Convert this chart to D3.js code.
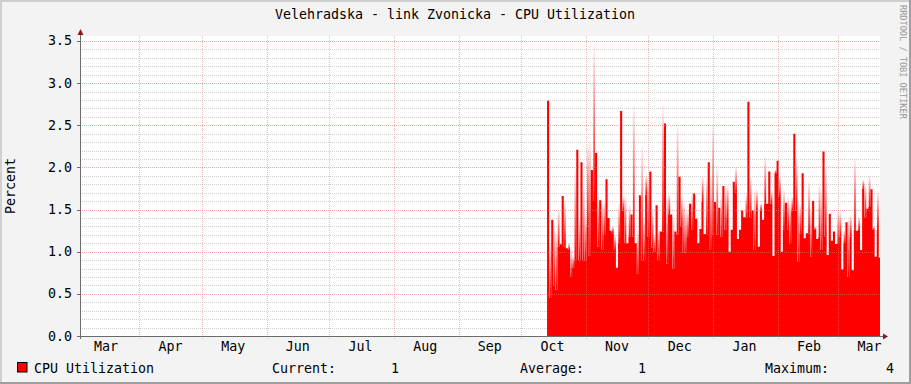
<!DOCTYPE html>
<html>
<head>
<meta charset="utf-8">
<script src="https://cdn.jsdelivr.net/npm/d3@7"></script>
<style>
  html, body { margin: 0; padding: 0; background: #f3f3f3; }
  svg { display: block; }
  text { font-family: "DejaVu Sans Mono", monospace; }
</style>
</head>
<body>
<script>
// ---------- data ----------
const title = "Velehradska - link Zvonicka - CPU Utilization";
const yLabel = "Percent";
const seriesName = "CPU Utilization";
const sideText = "RRDTOOL / TOBI OETIKER";
const yTicks = [0.0, 0.5, 1.0, 1.5, 2.0, 2.5, 3.0, 3.5];
const monthLabels = ["Mar","Apr","May","Jun","Jul","Aug","Sep","Oct","Nov","Dec","Jan","Feb","Mar"];
const legendStats = [["Current:", "1"], ["Average:", "1"], ["Maximum:", "4"]];
const timeStart = "2011-03-03T14:00:00";
const timeEnd = "2012-03-20T23:30:00";
const dataStart = "2011-10-13T10:00:00"; // first sample, one sample per day
// daily solid (average) values
const cpuAvg = [
  2.79,0.45,1.38,0.60,0.55,1.06,1.08,1.66,1.06,1.04,
  1.02,0.70,0.81,0.90,2.21,0.90,2.06,0.90,0.90,1.30,
  0.95,1.97,1.60,2.17,1.06,1.61,1.03,1.20,1.86,1.40,
  1.25,1.22,1.02,0.81,1.10,2.67,1.49,1.10,1.10,1.18,
  1.44,1.18,1.10,0.74,1.67,0.90,0.90,1.68,1.18,1.95,
  1.05,1.00,1.55,0.90,1.24,1.24,2.52,0.86,1.44,1.44,
  0.80,1.24,1.20,1.89,1.30,0.99,0.99,1.18,1.57,1.26,
  1.69,1.39,1.10,1.27,1.59,1.21,1.20,2.06,1.02,1.20,
  1.59,1.20,1.52,1.18,1.78,1.26,1.41,1.00,1.26,1.83,
  1.70,1.15,1.26,1.49,1.41,1.41,2.78,1.41,1.49,1.02,
  1.49,1.06,1.49,1.38,1.57,1.57,1.95,1.57,0.95,1.93,
  2.08,1.65,1.00,1.26,1.58,1.26,1.10,1.49,2.40,1.49,
  0.88,1.22,1.93,1.16,1.22,1.22,0.94,1.60,1.26,1.15,
  1.18,1.02,2.19,1.18,0.96,1.45,1.13,1.24,1.09,1.10,
  1.18,0.79,1.10,1.35,0.70,1.18,0.78,1.26,1.25,1.26,
  1.02,1.75,1.41,1.51,1.53,1.74,1.26,0.94,1.26,0.93
];
// daily short peak values (drawn fading)
const cpuPeak = [
  2.79,1.10,1.38,1.30,1.25,1.50,1.10,1.66,1.60,1.04,
  1.10,1.02,0.95,1.97,2.21,1.40,2.06,1.77,1.45,2.28,
  2.30,1.97,3.45,2.17,1.65,1.61,1.57,1.60,1.86,1.40,
  1.25,1.30,1.20,0.81,1.57,2.67,1.65,1.67,1.10,1.55,
  1.44,2.74,1.10,1.26,1.67,2.25,1.40,1.91,1.85,1.95,
  1.50,1.20,1.55,1.26,1.24,2.74,2.52,1.65,1.69,1.44,
  1.41,1.24,2.52,1.89,1.65,1.61,1.49,1.49,1.57,1.71,
  1.69,1.39,1.10,1.27,1.89,1.21,1.89,2.06,1.90,2.50,
  1.59,2.00,1.52,1.69,1.78,1.77,1.79,1.00,1.26,1.83,
  2.00,1.15,1.26,1.49,1.41,1.69,2.78,1.89,1.49,1.73,
  1.73,1.06,1.57,1.38,2.13,1.57,1.95,1.73,0.95,1.97,
  2.08,1.89,1.00,1.73,1.58,1.65,1.57,1.65,2.40,2.13,
  1.60,1.57,1.93,1.16,1.22,1.83,1.53,1.60,1.30,1.15,
  1.81,1.73,2.19,2.00,0.96,1.45,1.13,1.24,1.09,1.49,
  1.47,0.79,1.26,1.35,1.41,1.43,0.78,2.11,1.25,1.41,
  1.02,1.85,1.81,1.51,1.91,1.74,1.30,0.94,1.71,0.93
];

// ---------- layout ----------
const W = 911, H = 384;
const plot = { left: 80, right: 880, top: 36, bottom: 336 };

const svg = d3.select("body").append("svg").attr("width", W).attr("height", H);

// background + 3D frame
svg.append("rect").attr("width", W).attr("height", H).attr("fill", "#f3f3f3");
svg.append("path").attr("d", `M0,${H} L0,0 L${W},0`).attr("fill", "none").attr("stroke", "#cfcfcf").attr("stroke-width", 4);
svg.append("path").attr("d", `M${W},0 L${W},${H} L0,${H}`).attr("fill", "none").attr("stroke", "#9e9e9e").attr("stroke-width", 4);

// plot canvas
svg.append("rect").attr("x", plot.left).attr("y", plot.top)
  .attr("width", plot.right - plot.left).attr("height", plot.bottom - plot.top).attr("fill", "#ffffff");

const x = d3.scaleTime().domain([new Date(timeStart), new Date(timeEnd)]).range([plot.left, plot.right]);
const y = d3.scaleLinear().domain([0, (plot.bottom - plot.top) / 84.3]).range([plot.bottom, plot.top]);

const defs = svg.append("defs");
defs.append("clipPath").attr("id", "clip").append("rect")
  .attr("x", plot.left).attr("y", plot.top).attr("width", plot.right - plot.left).attr("height", plot.bottom - plot.top);
const grad = defs.append("linearGradient").attr("id", "fade")
  .attr("x1", 0).attr("y1", 1).attr("x2", 0).attr("y2", 0);
grad.append("stop").attr("offset", "0%").attr("stop-color", "#ff0000").attr("stop-opacity", 1);
grad.append("stop").attr("offset", "55%").attr("stop-color", "#ff0000").attr("stop-opacity", 0.5);
grad.append("stop").attr("offset", "100%").attr("stop-color", "#ff0000").attr("stop-opacity", 0.04);

// minor horizontal grid (every 0.1), beneath data
const minorVals = d3.range(1, 36).map(d => d / 10).filter(v => Math.round(v * 10) % 5 !== 0);
svg.append("g").selectAll("line").data(minorVals).join("line")
  .attr("x1", plot.left).attr("x2", plot.right)
  .attr("y1", d => Math.round(y(d)) + 0.5).attr("y2", d => Math.round(y(d)) + 0.5)
  .attr("stroke", "#d0d0d0").attr("stroke-width", 1).attr("stroke-dasharray", "1,1");

// data
const t0 = new Date(dataStart);
const dayMs = 86400000;
const samples = cpuAvg.map((v, i) => ({ t: new Date(+t0 + i * dayMs), v, p: cpuPeak[i] }));
const stepData = samples.concat([{ t: new Date(+t0 + samples.length * dayMs), v: cpuAvg[cpuAvg.length - 1] }]);

const g = svg.append("g").attr("clip-path", "url(#clip)");
g.selectAll("rect.peak").data(samples.filter(d => d.p > d.v)).join("rect")
  .attr("class", "peak")
  .attr("x", d => x(d.t) + 0.3).attr("width", 1.8)
  .attr("y", d => y(d.p)).attr("height", d => y(d.v) - y(d.p))
  .attr("fill", "url(#fade)");
g.append("path").datum(stepData)
  .attr("d", d3.area().curve(d3.curveStepAfter).x(d => x(d.t)).y0(y(0)).y1(d => y(d.v)))
  .attr("fill", "#ff0000");

// major horizontal grid (every 0.5), translucent over data
svg.append("g").selectAll("line").data(yTicks.slice(1)).join("line")
  .attr("x1", plot.left).attr("x2", plot.right)
  .attr("y1", d => Math.round(y(d)) + 0.5).attr("y2", d => Math.round(y(d)) + 0.5)
  .attr("stroke", "rgb(230,110,110)").attr("stroke-opacity", 0.55).attr("stroke-width", 1).attr("stroke-dasharray", "1,1");

// month grid lines
const monthStarts = d3.timeMonth.range(d3.timeMonth.ceil(x.domain()[0]), x.domain()[1]);
svg.append("g").selectAll("line").data(monthStarts).join("line")
  .attr("x1", d => Math.round(x(d)) + 0.5).attr("x2", d => Math.round(x(d)) + 0.5)
  .attr("y1", plot.top).attr("y2", plot.bottom + 3)
  .attr("stroke", "rgb(235,120,120)").attr("stroke-opacity", 0.55).attr("stroke-width", 1).attr("stroke-dasharray", "1,1");

// axes
const axisG = svg.append("g");
axisG.append("line").attr("x1", plot.left - 3).attr("x2", plot.right + 3)
  .attr("y1", plot.bottom + 0.5).attr("y2", plot.bottom + 0.5).attr("stroke", "#6b6b6b");
axisG.append("line").attr("x1", plot.left + 0.5).attr("x2", plot.left + 0.5)
  .attr("y1", plot.bottom + 3).attr("y2", plot.top - 3).attr("stroke", "#6b6b6b");
axisG.append("path").attr("d", `M${plot.right + 3},${plot.bottom - 2.5} L${plot.right + 8},${plot.bottom + 0.5} L${plot.right + 3},${plot.bottom + 3.5} Z`).attr("fill", "#8b1a1a");
axisG.append("path").attr("d", `M${plot.left - 2.5},${plot.top - 1} L${plot.left + 0.5},${plot.top - 7} L${plot.left + 3.5},${plot.top - 1} Z`).attr("fill", "#8b1a1a");
// y ticks
axisG.selectAll("line.yt").data(yTicks).join("line").attr("class", "yt")
  .attr("x1", plot.left - 3).attr("x2", plot.left)
  .attr("y1", d => Math.round(y(d)) + 0.5).attr("y2", d => Math.round(y(d)) + 0.5).attr("stroke", "#6b6b6b");

// y labels
svg.append("g").selectAll("text").data(yTicks).join("text")
  .attr("x", 72).attr("y", d => y(d) + 4.5).attr("text-anchor", "end")
  .attr("font-size", "13.3px").attr("fill", "#000").text(d => d.toFixed(1));

// x labels (centered at month start + 15 days)
const labelTimes = d3.timeMonth.range(d3.timeMonth.floor(x.domain()[0]), x.domain()[1]);
svg.append("g").selectAll("text").data(labelTimes).join("text")
  .attr("x", (d, i) => x(new Date(+d + 15 * dayMs))).attr("y", 351)
  .attr("text-anchor", "middle").attr("font-size", "13.3px").attr("fill", "#000")
  .text((d, i) => monthLabels[i]);

// title
svg.append("text").attr("x", 455).attr("y", 18.5).attr("text-anchor", "middle")
  .attr("font-size", "13.3px").attr("fill", "#000").text(title);

// y axis title
svg.append("text").attr("transform", `translate(15,${(plot.top + plot.bottom) / 2}) rotate(-90)`)
  .attr("text-anchor", "middle").attr("font-size", "13.3px").attr("fill", "#000").text(yLabel);

// side watermark
svg.append("text").attr("transform", "translate(900,5) rotate(90)")
  .attr("text-anchor", "start").attr("font-size", "8.6px").attr("fill", "#9a9a9a").text(sideText);

// legend
svg.append("rect").attr("x", 17.5).attr("y", 362.5).attr("width", 9.5).attr("height", 9.5)
  .attr("fill", "#ff0000").attr("stroke", "#000").attr("stroke-width", 1);
svg.append("text").attr("x", 34).attr("y", 373).attr("font-size", "13.3px").attr("fill", "#000").text(seriesName);
const statLabelX = [272, 520, 765];
const statValX = [399, 646, 894];
legendStats.forEach((s, i) => {
  svg.append("text").attr("x", statLabelX[i]).attr("y", 373).attr("font-size", "13.3px").attr("fill", "#000").text(s[0]);
  svg.append("text").attr("x", statValX[i]).attr("y", 373).attr("text-anchor", "end").attr("font-size", "13.3px").attr("fill", "#000").text(s[1]);
});
</script>
</body>
</html>
